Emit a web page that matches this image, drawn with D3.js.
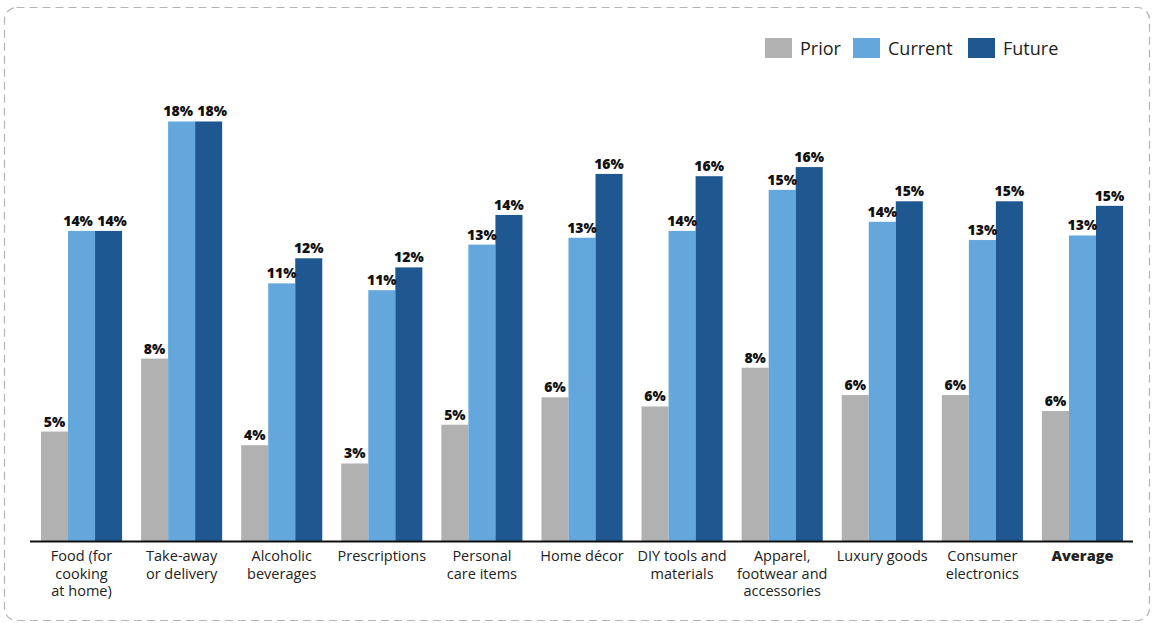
<!DOCTYPE html>
<html>
<head>
<meta charset="utf-8">
<script src="https://cdn.jsdelivr.net/npm/d3@7"></script>
<style>
  html, body { margin: 0; padding: 0; background: #fff; }
  svg { display: block; font-family: "Open Sans", "Noto Sans", sans-serif; }
</style>
</head>
<body>
<svg id="chart" width="1154" height="623"></svg>
<script>
// ---- Data ----
const categories = [
  ["Food (for", "cooking", "at home)"],
  ["Take-away", "or delivery"],
  ["Alcoholic", "beverages"],
  ["Prescriptions"],
  ["Personal", "care items"],
  ["Home décor"],
  ["DIY tools and", "materials"],
  ["Apparel,", "footwear and", "accessories"],
  ["Luxury goods"],
  ["Consumer", "electronics"],
  ["Average"]
];
const seriesNames = ["Prior", "Current", "Future"];
const prior   = [4.8, 8.0, 4.2, 3.4, 5.1, 6.3, 5.9, 7.6, 6.4, 6.4, 5.7];
const current = [13.6, 18.4, 11.3, 11.0, 13.0, 13.3, 13.6, 15.4, 14.0, 13.2, 13.4];
const future  = [13.6, 18.4, 12.4, 12.0, 14.3, 16.1, 16.0, 16.4, 14.9, 14.9, 14.7];
const colors  = ["#b1b1b1", "#63a7dc", "#1f5890"];

const seriesValues = [prior, current, future];
const rows = categories.map((c, i) => ({
  idx: i,
  label: c,
  values: seriesNames.map((s, j) => ({ series: s, j: j, value: seriesValues[j][i] }))
}));

// ---- Layout ----
const svg = d3.select("#chart");
const baseY = 541;

const x0 = d3.scaleBand()
  .domain(d3.range(categories.length))
  .range([41, 1123])
  .paddingInner(0.19)
  .paddingOuter(0);

const x1 = d3.scaleBand()
  .domain(d3.range(seriesNames.length))
  .range([0, x0.bandwidth()])
  .padding(0);

const y = d3.scaleLinear().domain([0, 20]).range([baseY, baseY - 20 * 22.8]);

// dashed frame
svg.append("rect")
  .attr("x", 4.5).attr("y", 7.5)
  .attr("width", 1145).attr("height", 613)
  .attr("rx", 12).attr("ry", 12)
  .attr("fill", "none")
  .attr("stroke", "#b4b4b4")
  .attr("stroke-width", 1.2)
  .attr("stroke-dasharray", "8,5");

// bars
const groups = svg.append("g").selectAll("g")
  .data(rows)
  .join("g")
  .attr("transform", d => `translate(${x0(d.idx)},0)`);

groups.selectAll("rect")
  .data(d => d.values)
  .join("rect")
  .attr("x", d => x1(d.j))
  .attr("y", d => y(d.value))
  .attr("width", x1.bandwidth())
  .attr("height", d => y(0) - y(d.value))
  .attr("fill", d => colors[d.j]);

// value labels: nudge apart when neighbouring labels sit at the same height
function labelShift(d, vals) {
  const near = (a, b) => a && b && Math.abs(y(a.value) - y(b.value)) < 14;
  let s = 0;
  if (near(d, vals[d.j - 1])) s += 3.5;
  if (near(d, vals[d.j + 1])) s -= 3.5;
  return s;
}
const fmt = v => d3.format(".0f")(v) + "%";
groups.each(function(row) {
  d3.select(this).selectAll("text.val")
    .data(row.values)
    .join("text")
    .attr("class", "val")
    .attr("x", d => x1(d.j) + x1.bandwidth() / 2 + labelShift(d, row.values))
    .attr("y", d => y(d.value) - 5)
    .attr("text-anchor", "middle")
    .attr("font-size", 14)
    .attr("font-weight", 800)
    .attr("fill", "#111")
    .text(d => fmt(d.value));
});

// baseline axis
svg.append("line")
  .attr("x1", 30).attr("x2", 1133)
  .attr("y1", baseY + 0.5).attr("y2", baseY + 0.5)
  .attr("stroke", "#111")
  .attr("stroke-width", 2);

// category labels
const catLabels = svg.append("g").selectAll("text")
  .data(rows)
  .join("text")
  .attr("x", d => x0(d.idx) + x0.bandwidth() / 2)
  .attr("y", 561)
  .attr("text-anchor", "middle")
  .attr("font-size", 14.5)
  .attr("fill", "#222")
  .attr("font-weight", d => d.idx === categories.length - 1 ? 800 : 400);

catLabels.selectAll("tspan")
  .data(d => d.label)
  .join("tspan")
  .attr("x", function() { return d3.select(this.parentNode).attr("x"); })
  .attr("dy", (d, i) => i === 0 ? 0 : 17.5)
  .text(d => d);

// legend
const legendX = [765, 853, 968];
const legend = svg.append("g").selectAll("g")
  .data(seriesNames)
  .join("g")
  .attr("transform", (d, i) => `translate(${legendX[i]},38)`);
legend.append("rect")
  .attr("width", 27).attr("height", 20)
  .attr("fill", (d, i) => colors[i]);
legend.append("text")
  .attr("x", 35).attr("y", 17)
  .attr("font-size", 18)
  .attr("fill", "#222")
  .text(d => d);
</script>
</body>
</html>
